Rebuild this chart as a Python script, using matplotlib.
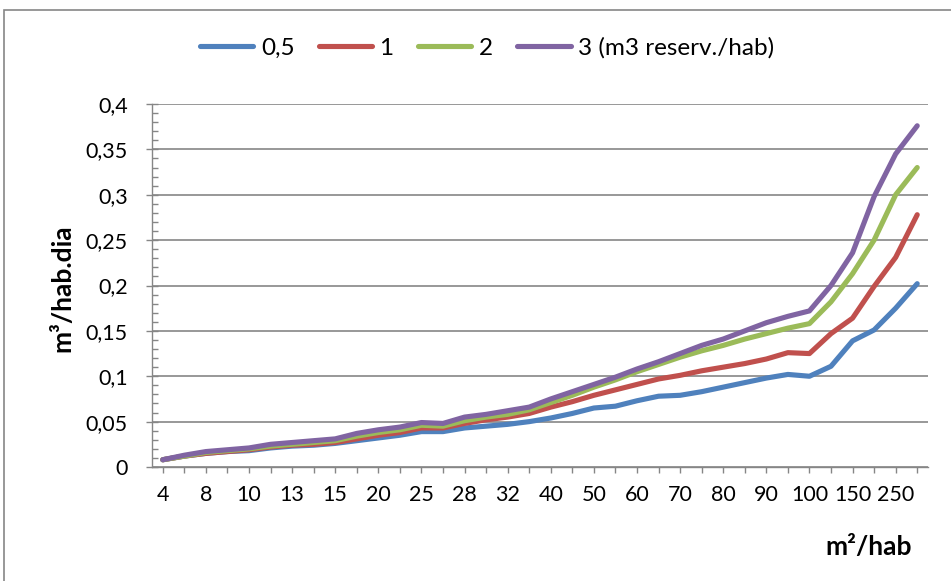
import matplotlib
matplotlib.use("Agg")
import matplotlib.pyplot as plt
from matplotlib.patches import Rectangle
from matplotlib.ticker import MultipleLocator, FuncFormatter

plt.rcParams['font.family'] = ['Lato', 'DejaVu Sans']

categories = ["4", "6", "8", "9", "10", "12", "13", "14", "15", "18", "20", "22",
              "25", "26", "28", "30", "32", "35", "40", "45", "50", "55", "60", "65",
              "70", "75", "80", "85", "90", "95", "100", "125", "150", "200", "250", "300"]

s05 = [0.008, 0.012, 0.015, 0.017, 0.018, 0.021, 0.023, 0.024, 0.026, 0.029, 0.032, 0.035,
       0.039, 0.039, 0.043, 0.045, 0.047, 0.050, 0.054, 0.059, 0.065, 0.067, 0.073, 0.078,
       0.079, 0.083, 0.088, 0.093, 0.098, 0.102, 0.100, 0.111, 0.139, 0.151, 0.175, 0.202]
s1 = [0.008, 0.012, 0.015, 0.017, 0.019, 0.022, 0.024, 0.025, 0.027, 0.031, 0.035, 0.038,
      0.043, 0.043, 0.048, 0.052, 0.055, 0.059, 0.066, 0.072, 0.079, 0.085, 0.091, 0.097,
      0.101, 0.106, 0.110, 0.114, 0.119, 0.126, 0.125, 0.147, 0.164, 0.199, 0.231, 0.278]
s2 = [0.008, 0.012, 0.016, 0.018, 0.020, 0.023, 0.025, 0.027, 0.029, 0.034, 0.038, 0.041,
      0.046, 0.045, 0.051, 0.055, 0.058, 0.063, 0.071, 0.079, 0.088, 0.096, 0.105, 0.113,
      0.121, 0.128, 0.134, 0.141, 0.147, 0.153, 0.158, 0.182, 0.213, 0.250, 0.300, 0.330]
s3 = [0.008, 0.013, 0.017, 0.019, 0.021, 0.025, 0.027, 0.029, 0.031, 0.037, 0.041, 0.044,
      0.049, 0.048, 0.055, 0.058, 0.062, 0.066, 0.075, 0.083, 0.091, 0.099, 0.108, 0.116,
      0.125, 0.134, 0.141, 0.150, 0.159, 0.166, 0.172, 0.200, 0.236, 0.298, 0.345, 0.376]

series_names = ["0,5", "1", "2", "3 (m3 reserv./hab)"]
series_values = [s05, s1, s2, s3]
colors = ["#4F81BD", "#C0504D", "#9BBB59", "#8064A2"]

W, H = 951, 581
fig = plt.figure(figsize=(W / 100, H / 100), dpi=100)
ax = fig.add_axes([152 / W, 1 - 467 / H, (928 - 152) / W, (467 - 104) / H])

x = list(range(len(categories)))
handles = []
for name, vals, c in zip(series_names, series_values, colors):
    h, = ax.plot(x, vals, color=c, lw=3.7, solid_capstyle='round', solid_joinstyle='round', label=name)
    handles.append(h)

ax.set_xlim(-0.5, len(categories) - 0.5)
ax.set_ylim(0, 0.4)
ax.yaxis.set_major_locator(MultipleLocator(0.05))
ax.yaxis.set_minor_locator(MultipleLocator(0.01))
ax.yaxis.set_major_formatter(FuncFormatter(lambda v, p: ("%g" % round(v, 2)).replace(".", ",")))
ax.set_xticks(x)
ax.set_xticklabels([c if i % 2 == 0 else "" for i, c in enumerate(categories)])

grid_c = "#868686"
ax.grid(axis='y', which='major', color=grid_c, lw=1.2)
ax.set_axisbelow(True)
for s in ['top', 'right']:
    ax.spines[s].set_visible(False)
for s in ['left', 'bottom']:
    ax.spines[s].set_color(grid_c)
    ax.spines[s].set_linewidth(1.0)

ax.tick_params(axis='y', which='major', direction='inout', length=9, width=1, color=grid_c,
               labelsize=15.5, pad=13, labelcolor='black')
ax.tick_params(axis='y', which='minor', direction='in', length=4, width=1, color=grid_c)
ax.tick_params(axis='x', which='major', direction='out', length=4, width=1, color=grid_c,
               labelsize=15.5, pad=9, labelcolor='black')

fig.text(62 / W, 1 - 288 / H, "m³/hab.dia", rotation=90, ha='center', va='center',
         fontsize=19, fontweight='bold')
fig.text(869 / W, 1 - 547 / H, "m²/hab", ha='center', va='center',
         fontsize=19, fontweight='bold')

fig.legend(handles=handles, loc='center', bbox_to_anchor=(487 / W, 1 - 48 / H), ncol=4,
           frameon=False, fontsize=17.5, handlelength=2.2, handletextpad=0.3,
           columnspacing=1.0)

fig.add_artist(Rectangle((4 / W, -0.1), 1.2, 1.1 - 10 / H, transform=fig.transFigure,
                         fill=False, edgecolor="#868686", lw=1.2, clip_on=False))

fig.savefig("out.png", dpi=100)
